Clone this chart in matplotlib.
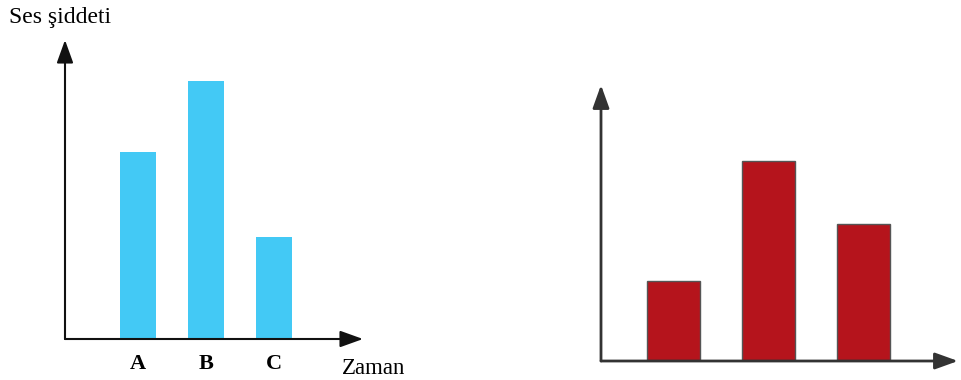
import matplotlib
matplotlib.use("Agg")
from matplotlib import pyplot as plt

# Left chart data
left_categories = ["A", "B", "C"]
left_values = [5.45, 7.5, 2.97]
# Right chart data
right_values = [2.0, 5.0, 3.43]

W, H = 961, 380
plt.rcParams['font.family'] = ['Liberation Serif', 'DejaVu Serif']

fig = plt.figure(figsize=(W / 100, H / 100), dpi=100)


def px_axes(x0, y0, x1, y1):
    # pixel box (left, top, right, bottom origin) -> figure fraction
    return fig.add_axes([x0 / W, 1 - y1 / H, (x1 - x0) / W, (y1 - y0) / H])


def arrows(ax, color, lw):
    style = "-|>,head_length=1.0,head_width=0.36"
    props = dict(arrowstyle=style, mutation_scale=14, color=color, lw=lw,
                 shrinkA=0, shrinkB=0)
    ax.annotate("", xy=(0, 1), xytext=(0, 0), xycoords="axes fraction", arrowprops=props)
    ax.annotate("", xy=(1, 0), xytext=(0, 0), xycoords="axes fraction", arrowprops=props)
    for s in ax.spines.values():
        s.set_visible(False)
    ax.set_yticks([])


# ---- left chart
ax1 = px_axes(65, 40, 363, 339)
pos = range(len(left_values))
ax1.bar(pos, left_values, width=0.53, color="#43C9F5")
ax1.set_xlim((65 - 138) / 68, (363 - 138) / 68)
ax1.set_ylim(0, 299 / 34.4)
ax1.set_xticks(list(pos), left_categories, fontsize=16, fontweight="bold")
ax1.tick_params(axis="x", length=0, pad=11)
arrows(ax1, "#111111", 1.5)

fig.text(60 / W, 1 - 18 / H, "Ses şiddeti", fontsize=17, ha="center", va="center")
fig.text(374 / W, 1 - 368 / H, "Zaman", fontsize=16.5, ha="center", va="center")

# ---- right chart
ax2 = px_axes(601, 85, 958, 361)
pos = range(len(right_values))
ax2.bar(pos, right_values, width=0.56, color="#B5141C", edgecolor="#555555", linewidth=1.0)
ax2.set_xlim((601 - 673.5) / 95, (958 - 673.5) / 95)
ax2.set_ylim(0, 276 / 40)
ax2.set_xticks([])
arrows(ax2, "#333333", 2.0)

fig.savefig("out.png", dpi=100)
